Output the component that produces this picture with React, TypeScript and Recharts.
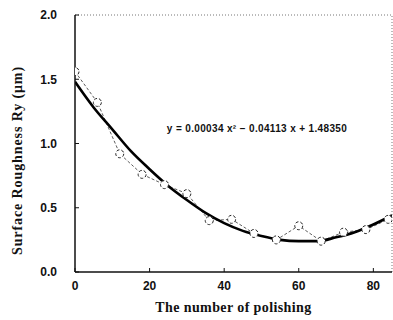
import React from 'react';
import {
  LineChart,
  Line,
  XAxis,
  YAxis,
  ReferenceLine,
  Label
} from 'recharts';

// measured surface roughness after each polishing step
const polishCounts = [0, 6, 12, 18, 24, 30, 36, 42, 48, 54, 60, 66, 72, 78, 84];
const roughness = [1.56, 1.32, 0.92, 0.76, 0.68, 0.61, 0.4, 0.41, 0.3, 0.25, 0.36, 0.24, 0.31, 0.33, 0.41];

// quadratic fit curve
const fitX = [0, 5, 10, 15, 20, 25, 30, 35, 40, 45, 50, 55, 60, 65, 70, 75, 80, 85];
const fitY = [1.48, 1.28, 1.11, 0.94, 0.8, 0.67, 0.56, 0.46, 0.38, 0.32, 0.28, 0.25, 0.24, 0.24, 0.27, 0.31, 0.37, 0.44];

const xTicks = [0, 20, 40, 60, 80];
const yTicks = [0, 0.5, 1.0, 1.5, 2.0];

const equation = 'y = 0.00034 x\u00B2 \u2212 0.04113 x + 1.48350';

const measured = polishCounts.map((x, i) => ({ x, y: roughness[i] }));
const fitted = fitX.map((x, i) => ({ x, y: fitY[i] }));

const tickStyle = { fontFamily: 'Liberation Sans, Arial, sans-serif', fontSize: 12, fontWeight: 700, fill: '#111' };
const titleFont = 'Liberation Serif, Times New Roman, serif';

const App = () => {
  return (
    <div style={{ position: 'absolute', left: 0, top: 0, background: '#fff' }}>
      <LineChart
        width={393}
        height={320}
        margin={{ top: 15, right: 1, left: 0, bottom: 0 }}
      >
        <XAxis
          type="number"
          dataKey="x"
          domain={[0, 85]}
          ticks={xTicks}
          allowDataOverflow
          height={48}
          tickSize={-4}
          tickMargin={13}
          tick={tickStyle}
          axisLine={{ stroke: '#111', strokeWidth: 1.5 }}
          tickLine={{ stroke: '#111' }}
        >
          <Label
            value="The number of polishing"
            position="insideBottom"
            offset={8}
            style={{ fontFamily: titleFont, fontSize: 14, fontWeight: 700, fill: '#111', letterSpacing: 0.4 }}
          />
        </XAxis>
        <YAxis
          type="number"
          domain={[0, 2]}
          ticks={yTicks}
          width={75}
          tickSize={-4}
          tickMargin={22}
          tick={tickStyle}
          tickFormatter={(v: number) => v.toFixed(1)}
          axisLine={{ stroke: '#111', strokeWidth: 1.5 }}
          tickLine={{ stroke: '#111' }}
        >
          <Label
            content={({ viewBox }: any) => {
              const cx = viewBox.x + 17;
              const cy = viewBox.y + viewBox.height / 2 + 17;
              return (
                <text
                  x={cx}
                  y={cy}
                  transform={`rotate(-90 ${cx} ${cy})`}
                  textAnchor="middle"
                  dominantBaseline="central"
                  style={{ fontFamily: titleFont, fontSize: 14, fontWeight: 700, fill: '#111', letterSpacing: 0.9 }}
                >
                  Surface Roughness Ry (μm)
                </text>
              );
            }}
          />
        </YAxis>

        <ReferenceLine y={2} stroke="#777" strokeDasharray="1 2" />
        <ReferenceLine x={85} stroke="#777" strokeDasharray="1 2" />

        <Line
          data={measured}
          dataKey="y"
          type="linear"
          stroke="#333"
          strokeWidth={0.8}
          strokeDasharray="3 2"
          dot={{ r: 4, stroke: '#222', strokeWidth: 1, fill: '#fff' }}
          isAnimationActive={false}
        />
        <Line
          data={fitted}
          dataKey="y"
          type="monotone"
          stroke="#000"
          strokeWidth={2.6}
          dot={false}
          isAnimationActive={false}
        />

        <text
          x={257}
          y={128}
          textAnchor="middle"
          dominantBaseline="central"
          style={{ fontFamily: 'Liberation Sans, Arial, sans-serif', fontSize: 10, fontWeight: 600, fill: '#111', letterSpacing: 0.35 }}
        >
          {equation}
        </text>
      </LineChart>
    </div>
  );
};

export default App;
